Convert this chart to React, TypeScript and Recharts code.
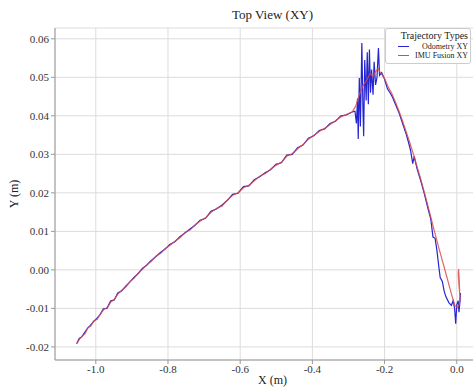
import { LineChart, Line, XAxis, YAxis, CartesianGrid } from "recharts";

const xTicks = [-1.0, -0.8, -0.6, -0.4, -0.2, 0.0];
const yTicks = [-0.02, -0.01, 0.0, 0.01, 0.02, 0.03, 0.04, 0.05, 0.06];

// IMU fusion path (x, y in metres)
const imuX = [
  -1.052, -1.045, -1.038, -1.03, -1.022, -1.014, -1.005, -0.996, -0.987, -0.978,
  -0.968, -0.958, -0.948, -0.938, -0.927, -0.916, -0.905, -0.894, -0.882, -0.87,
  -0.858, -0.846, -0.833, -0.82, -0.807, -0.794, -0.78, -0.766, -0.752, -0.738,
  -0.724, -0.71, -0.695, -0.68, -0.665, -0.65, -0.635, -0.62, -0.605, -0.59,
  -0.575, -0.56, -0.545, -0.53, -0.515, -0.5, -0.485, -0.47, -0.455, -0.44,
  -0.425, -0.41, -0.395, -0.38, -0.365, -0.35, -0.335, -0.32, -0.305, -0.29,
  -0.28, -0.27, -0.26, -0.25, -0.24, -0.232, -0.225, -0.218, -0.21, -0.2,
  -0.19, -0.18, -0.17, -0.16, -0.15, -0.14, -0.13, -0.12, -0.11, -0.1,
  -0.09, -0.08, -0.07, -0.06, -0.05, -0.04, -0.03, -0.02, -0.012, -0.005,
  0.002, 0.007, 0.009, 0.006, 0.004, 0.005, 0.007, 0.008,
];
const imuY = [
  -0.019, -0.018, -0.0172, -0.0166, -0.015, -0.0146, -0.0132, -0.0128, -0.0114, -0.0103,
  -0.0098, -0.0083, -0.0076, -0.0062, -0.0052, -0.0044, -0.003, -0.0022, -0.0008, 0.0002,
  0.0014, 0.0022, 0.0036, 0.0043, 0.0056, 0.0064, 0.0075, 0.0084, 0.0098, 0.0104,
  0.0118, 0.0127, 0.0136, 0.015, 0.016, 0.0166, 0.0182, 0.0194, 0.0201, 0.0214,
  0.022, 0.0232, 0.0244, 0.025, 0.0262, 0.0272, 0.028, 0.0296, 0.0302, 0.0315,
  0.0326, 0.034, 0.035, 0.036, 0.0368, 0.0378, 0.0388, 0.0398, 0.0404, 0.041,
  0.0425, 0.0455, 0.0478, 0.0492, 0.051, 0.0502, 0.0515, 0.0522, 0.051, 0.0497,
  0.0475, 0.0458, 0.0436, 0.0412, 0.0386, 0.0358, 0.033, 0.03, 0.0268, 0.0236,
  0.0202, 0.0166, 0.013, 0.0093, 0.0058, 0.0024, -0.001, -0.0045, -0.0072, -0.0093,
  -0.0098, -0.009, -0.007, -0.004, -0.001, 0.0002, -0.003, -0.006,
];

// wheel odometry path
const odoX = [
  -1.053, -1.046, -1.039, -1.031, -1.023, -1.015, -1.006, -0.997, -0.988, -0.979,
  -0.969, -0.959, -0.949, -0.939, -0.928, -0.917, -0.906, -0.895, -0.883, -0.871,
  -0.859, -0.847, -0.834, -0.821, -0.808, -0.795, -0.781, -0.767, -0.753, -0.739,
  -0.725, -0.711, -0.696, -0.681, -0.666, -0.651, -0.636, -0.621, -0.606, -0.591,
  -0.576, -0.561, -0.546, -0.531, -0.516, -0.501, -0.486, -0.471, -0.456, -0.441,
  -0.426, -0.411, -0.396, -0.381, -0.366, -0.351, -0.336, -0.321, -0.306, -0.29,
  -0.282, -0.278, -0.275, -0.273, -0.27, -0.267, -0.263, -0.26, -0.258, -0.255,
  -0.251, -0.248, -0.245, -0.242, -0.239, -0.236, -0.232, -0.229, -0.225, -0.221,
  -0.217, -0.214, -0.208, -0.2, -0.192, -0.185, -0.178, -0.17, -0.16, -0.15,
  -0.14, -0.134, -0.128, -0.122, -0.118, -0.11, -0.1, -0.09, -0.08, -0.072,
  -0.066, -0.06, -0.055, -0.05, -0.046, -0.04, -0.035, -0.03, -0.022, -0.015,
  -0.01, -0.006, -0.003, 0.0, 0.004, 0.006, 0.009, 0.01,
];
const odoY = [
  -0.0192, -0.0178, -0.0174, -0.0163, -0.0152, -0.0144, -0.0134, -0.0126, -0.0116, -0.0101,
  -0.01, -0.0081, -0.0078, -0.006, -0.0054, -0.0042, -0.0032, -0.002, -0.001, 0.0004,
  0.0012, 0.0024, 0.0034, 0.0045, 0.0054, 0.0066, 0.0073, 0.0086, 0.0096, 0.0106,
  0.0116, 0.0129, 0.0134, 0.0152, 0.0158, 0.0168, 0.018, 0.0196, 0.0199, 0.0216,
  0.0218, 0.0234, 0.0242, 0.0252, 0.026, 0.0274, 0.0278, 0.0298, 0.03, 0.0317,
  0.0324, 0.0342, 0.0348, 0.0362, 0.0366, 0.038, 0.0386, 0.04, 0.0402, 0.041,
  0.0412, 0.038, 0.0445, 0.034, 0.0498, 0.0372, 0.0589, 0.042, 0.0347, 0.0545,
  0.044, 0.0565, 0.043, 0.0572, 0.046, 0.052, 0.0455, 0.054, 0.048, 0.05,
  0.0576, 0.0505, 0.0512, 0.0495, 0.047, 0.046, 0.0448, 0.043, 0.0408, 0.038,
  0.0352, 0.0332, 0.031, 0.0276, 0.0295, 0.0262, 0.0232, 0.0198, 0.016, 0.0132,
  0.0085, 0.0082, 0.005, 0.001, -0.002, -0.003, -0.0055, -0.007, -0.0085, -0.0092,
  -0.008, -0.01, -0.014, -0.009, -0.008, -0.011, -0.008, -0.006,
];

const imuData = imuX.map((x, i) => ({ x, y: imuY[i] }));
const odoData = odoX.map((x, i) => ({ x, y: odoY[i] }));

const FONT = "'Liberation Serif', 'DejaVu Serif', serif";
const tickStyle = { fontFamily: FONT, fontSize: 11, fill: "#333" };

const legendItems = [
  { name: "Odometry XY", color: "#2424d0" },
  { name: "IMU Fusion XY", color: "#dc4a4a" },
];

function TrajLegend() {
  return (
    <div
      style={{
        position: "absolute",
        left: 385,
        top: 28,
        width: 86,
        boxSizing: "border-box",
        fontFamily: FONT,
        background: "rgba(255,255,255,0.85)",
        border: "1px solid #ccc",
        borderRadius: 3,
        padding: "1px 2px 3px 12px",
        color: "#222",
      }}
    >
      <div style={{ fontSize: 10, textAlign: "right", lineHeight: "12px", whiteSpace: "nowrap" }}>Trajectory Types</div>
      {legendItems.map((it) => (
        <div key={it.name} style={{ display: "flex", alignItems: "center", fontSize: 8, lineHeight: "9px" }}>
          <span style={{ width: 11, height: 1.5, background: it.color, display: "inline-block" }} />
          <span style={{ marginLeft: "auto", whiteSpace: "nowrap" }}>{it.name}</span>
        </div>
      ))}
    </div>
  );
}

export default function App() {
  return (
    <div style={{ position: "absolute", left: 0, top: 0, width: 473, height: 387, overflow: "hidden", background: "#fff" }}>
      <div
        style={{
          position: "absolute",
          left: 55,
          width: 435,
          top: 7,
          textAlign: "center",
          fontFamily: FONT,
          fontSize: 13,
          color: "#222",
        }}
      >
        Top View (XY)
      </div>
      <LineChart width={500} height={387} margin={{ top: 28, right: 10, left: 0, bottom: 0 }}>
        <CartesianGrid stroke="#dcdcdc" strokeWidth={1} />
        <XAxis
          type="number"
          dataKey="x"
          domain={[-1.113, 0.092]}
          ticks={xTicks}
          tickFormatter={(v: number) => v.toFixed(1)}
          allowDataOverflow
          height={27}
          stroke="#999"
          tickSize={4}
          tickMargin={1}
          tick={tickStyle}
          label={{ value: "X (m)", position: "insideBottom", offset: 3, style: { fontFamily: FONT, fontSize: 12, fill: "#222" } }}
        />
        <XAxis
          xAxisId="top"
          orientation="top"
          type="number"
          domain={[-1.113, 0.092]}
          height={0}
          tick={false}
          tickLine={false}
          stroke="#999"
        />
        <YAxis
          type="number"
          dataKey="y"
          domain={[-0.0234, 0.0628]}
          ticks={yTicks}
          tickFormatter={(v: number) => v.toFixed(2)}
          allowDataOverflow
          width={55}
          stroke="#999"
          tickSize={4}
          tickMargin={2}
          tick={tickStyle}
          label={{ value: "Y (m)", angle: -90, position: "insideLeft", offset: 14, style: { fontFamily: FONT, fontSize: 12, fill: "#222", textAnchor: "middle" } }}
        />
        <Line
          data={odoData}
          dataKey="y"
          name="Odometry XY"
          type="linear"
          stroke="#2424d0"
          strokeWidth={1.2}
          dot={false}
          isAnimationActive={false}
        />
        <Line
          data={imuData}
          dataKey="y"
          name="IMU Fusion XY"
          type="linear"
          stroke="#dc4a4a"
          strokeOpacity={0.85}
          strokeWidth={1.2}
          dot={false}
          isAnimationActive={false}
        />
      </LineChart>
      <TrajLegend />
    </div>
  );
}
